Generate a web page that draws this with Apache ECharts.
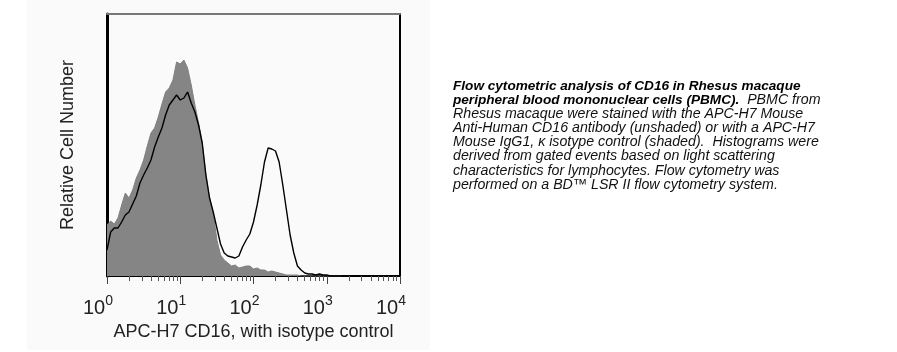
<!DOCTYPE html>
<html>
<head>
<meta charset="utf-8">
<script src="https://cdn.jsdelivr.net/npm/echarts@6/dist/echarts.min.js"></script>
<style>
html,body{margin:0;padding:0;background:#ffffff;}
#chart{width:897px;height:352px;}
</style>
</head>
<body>
<div id="chart"></div>
<script>
// Channel positions (log10 of fluorescence intensity)
var binExponent = [0.00,0.05,0.10,0.15,0.20,0.25,0.30,0.35,0.40,0.45,0.50,0.55,0.60,0.65,0.70,0.75,0.80,0.85,0.90,0.95,
  1.00,1.05,1.10,1.15,1.20,1.25,1.30,1.35,1.40,1.45,1.50,1.55,1.60,1.65,1.70,1.75,1.80,1.85,1.90,1.95,
  2.00,2.05,2.10,2.15,2.20,2.25,2.30,2.35,2.40,2.45,2.50,2.55,2.60,2.65,2.70,2.75,2.80,2.85,2.90,2.95,
  3.00,3.05,3.10,3.15,3.20];
// Isotype control (shaded)
var isotypeCounts = [51,55,52,58,71,83,78,86,98,106,116,130,143,148,159,172,184,188,196,214,
  212,216,208,191,171,153,133,101,78,63,36,21,16,13,10,11,8,9,10,10,
  7,8,6,6,4,5,4,3,2,1,1,1,1,0,0,0,0,0,0,0,
  0,0,0,0,0];
// APC-H7 CD16 (unshaded)
var cd16Counts = [26,44,48,48,54,61,64,72,80,93,101,108,116,129,139,148,161,171,176,181,
  176,178,184,173,164,151,133,101,78,64,48,32,23,20,19,18,20,29,36,42,
  54,71,91,114,128,127,125,114,91,66,41,23,10,6,3,2,2,1,2,1,
  1,0,0,0,0];
var majorTickExponents = [0,1,2,3,4];
var minorMultipliers = [2,3,4,5,6,7,8,9];
var xTitle = 'APC-H7 CD16, with isotype control';
var yTitle = 'Relative Cell Number';
var captionLines = [
  [['b','Flow cytometric analysis of CD16 in Rhesus macaque']],
  [['b','peripheral blood mononuclear cells (PBMC).'],['n','  PBMC from']],
  [['n','Rhesus macaque were stained with the APC-H7 Mouse']],
  [['n','Anti-Human CD16 antibody (unshaded) or with a APC-H7']],
  [['n','Mouse IgG1, \u03ba isotype control (shaded).  Histograms were']],
  [['n','derived from gated events based on light scattering']],
  [['n','characteristics for lymphocytes. Flow cytometry was']],
  [['n','performed on a BD\u2122 LSR II flow cytometry system.']]
];

var minorTickValues = [];
majorTickExponents.slice(0, 4).forEach(function (d) {
  minorMultipliers.forEach(function (k) { minorTickValues.push(d + Math.log10(k)); });
});
function pairs(ys) { return binExponent.map(function (x, i) { return [x, ys[i]]; }); }

var FONT = '"Liberation Sans", Arial, sans-serif';
var captionText = captionLines.map(function (line) {
  return line.map(function (seg) { return '{' + seg[0] + '|' + seg[1] + '}'; }).join('');
}).join('\n');

var chart = echarts.init(document.getElementById('chart'));
chart.setOption({
  animation: false,
  backgroundColor: '#ffffff',
  graphic: [{
    type: 'rect', z: -10, silent: true,
    shape: { x: 27, y: 0, width: 403, height: 350 },
    style: { fill: '#fafafa' }
  }],
  title: {
    text: captionText,
    left: 453, top: 79, padding: 0,
    textStyle: {
      fontWeight: 'normal',
      rich: {
        b: { fontFamily: FONT, fontSize: 13.6, fontWeight: 'bold', fontStyle: 'italic', color: '#000', lineHeight: 14.1 },
        n: { fontFamily: FONT, fontSize: 14.2, fontWeight: 'normal', fontStyle: 'italic', color: '#111', lineHeight: 14.1 }
      }
    }
  },
  grid: { left: 107, top: 14, width: 293, height: 262 },
  xAxis: [{
    type: 'value', min: 0, max: 4, interval: 1, position: 'bottom',
    axisLine: { onZero: false, lineStyle: { color: '#000', width: 2 } },
    axisTick: { length: 8, lineStyle: { color: '#444', width: 1 } },
    splitLine: { show: false },
    axisLabel: {
      margin: 18,
      formatter: function (v) { return '{b|10}{s|' + v + '}{p|}'; },
      rich: {
        b: { fontFamily: FONT, fontSize: 20, color: '#222', lineHeight: 28 },
        s: { fontFamily: FONT, fontSize: 14, color: '#222', lineHeight: 14, verticalAlign: 'top' },
        p: { width: 18 }
      }
    },
    name: xTitle, nameLocation: 'middle', nameGap: 46,
    nameTextStyle: { fontFamily: FONT, fontSize: 18, color: '#222' }
  }, {
    type: 'value', min: 0, max: 4, position: 'bottom',
    axisLine: { show: false, onZero: false },
    axisTick: { show: true, length: 5, customValues: minorTickValues, lineStyle: { color: '#555', width: 1 } },
    axisLabel: { show: false },
    splitLine: { show: false }
  }, {
    type: 'value', min: 0, max: 4, position: 'top',
    axisLine: { onZero: false, lineStyle: { color: '#777', width: 2 } },
    axisTick: { show: false }, axisLabel: { show: false }, splitLine: { show: false }
  }],
  yAxis: [{
    type: 'value', min: 0, max: 262, position: 'left',
    axisLine: { show: true, onZero: false, lineStyle: { color: '#000', width: 3 } },
    axisTick: { show: false }, axisLabel: { show: false }, splitLine: { show: false },
    name: yTitle, nameLocation: 'middle', nameGap: 30, nameRotate: 90,
    nameTextStyle: { fontFamily: FONT, fontSize: 18, color: '#222' }
  }, {
    type: 'value', min: 0, max: 262, position: 'right',
    axisLine: { show: true, onZero: false, lineStyle: { color: '#000', width: 2 } },
    axisTick: { show: false }, axisLabel: { show: false }, splitLine: { show: false }
  }],
  series: [{
    name: 'Isotype control', type: 'line', xAxisIndex: 0, yAxisIndex: 0,
    data: pairs(isotypeCounts), showSymbol: false, smooth: false,
    lineStyle: { color: '#808080', width: 1 },
    areaStyle: { color: '#858585', opacity: 1 },
    z: 2
  }, {
    name: 'CD16', type: 'line', xAxisIndex: 0, yAxisIndex: 0,
    data: pairs(cd16Counts), showSymbol: false, smooth: false,
    lineStyle: { color: '#000', width: 1.4 },
    z: 3
  }]
});
</script>
</body>
</html>
